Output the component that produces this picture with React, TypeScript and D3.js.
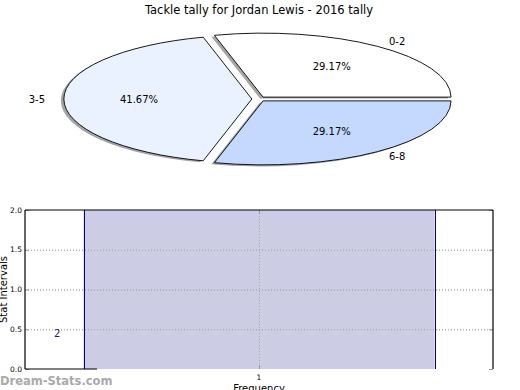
import React, { useEffect, useRef } from "react";
import * as d3 from "d3";

// pie data
const sliceLabels = ["0-2", "3-5", "6-8"];
const sliceValues = [7, 10, 7];
const sliceColors = ["#ffffff", "#ebf2ff", "#c5d9ff"];

// bar data
const barCategories = [1];
const barValues = [2];
const barText = ["2"];
const yTicks = [0, 0.5, 1.0, 1.5, 2.0];
const xTicks = [1];

const W = 520;
const H = 390;
const FONT = "DejaVu Sans, sans-serif";

const App = () => {
    const ref = useRef<SVGSVGElement>(null);

    useEffect(() => {
        if (!ref.current) return;
        d3.select(ref.current).selectAll("*").remove();
        const svg = d3.select(ref.current).attr("width", W).attr("height", H);

        svg.append("rect").attr("width", W).attr("height", H).attr("fill", "#fff");

        svg.append("text")
            .attr("x", 259)
            .attr("y", 14)
            .attr("text-anchor", "middle")
            .attr("font-family", FONT)
            .attr("font-size", 11.5)
            .text("Tackle tally for Jordan Lewis - 2016 tally");

        // ---- pie (elliptical, exploded, with shadow)
        const cx = 258.8, cy = 99, rx = 188, ry = 64, explode = 0.037;
        const pie = d3.pie<number>().sort(null).startAngle(0).endAngle(2 * Math.PI);
        const arcs = pie(sliceValues);
        const total = d3.sum(sliceValues);

        const pt = (x: number, y: number, a: number, k: number) =>
            [x + k * rx * Math.cos(a), y - k * ry * Math.sin(a)];

        const slicePath = (x: number, y: number, a0: number, a1: number) => {
            const [x0, y0] = pt(x, y, a0, 1);
            const [x1, y1] = pt(x, y, a1, 1);
            const large = a1 - a0 > Math.PI ? 1 : 0;
            return `M${x},${y}L${x0},${y0}A${rx},${ry} 0 ${large} 0 ${x1},${y1}Z`;
        };

        const shade = (c: string) => {
            const col = d3.rgb(c);
            return d3.rgb(col.r * 0.3, col.g * 0.3, col.b * 0.3).toString();
        };

        const g = svg.append("g");
        arcs.forEach((a, i) => {
            const mid = (a.startAngle + a.endAngle) / 2;
            const [ox, oy] = pt(cx, cy, mid, explode);
            g.append("path")
                .attr("d", slicePath(ox - 3, oy + 1.5, a.startAngle, a.endAngle))
                .attr("fill", shade(sliceColors[i]))
                .attr("opacity", 0.5);
        });
        arcs.forEach((a, i) => {
            const mid = (a.startAngle + a.endAngle) / 2;
            const [ox, oy] = pt(cx, cy, mid, explode);
            g.append("path")
                .attr("d", slicePath(ox, oy, a.startAngle, a.endAngle))
                .attr("fill", sliceColors[i])
                .attr("stroke", "#000")
                .attr("stroke-width", 0.9)
                .attr("stroke-linejoin", "miter");

            const [lx, ly] = pt(ox, oy, mid, 1.1);
            g.append("text")
                .attr("x", lx)
                .attr("y", ly)
                .attr("dy", "0.35em")
                .attr("text-anchor", Math.cos(mid) >= 0 ? "start" : "end")
                .attr("font-family", FONT)
                .attr("font-size", 10)
                .text(sliceLabels[i]);

            const [px, py] = pt(ox, oy, mid, 0.6);
            g.append("text")
                .attr("x", px)
                .attr("y", py)
                .attr("dy", "0.35em")
                .attr("text-anchor", "middle")
                .attr("font-family", FONT)
                .attr("font-size", 10)
                .text(`${((sliceValues[i] / total) * 100).toFixed(2)}%`);
        });

        // ---- bar chart
        const left = 25, right = 493, top = 210, bottom = 369;
        const x = d3.scaleLinear().domain([1 / 3, 5 / 3]).range([left, right]);
        const y = d3.scaleLinear().domain([0, 2]).range([bottom, top]);
        const barW = 1;

        const grid = svg.append("g")
            .attr("stroke", "#aaa")
            .attr("stroke-width", 1)
            .attr("stroke-dasharray", "1,2");
        yTicks.slice(1, -1).forEach((t) => {
            grid.append("line")
                .attr("x1", left).attr("x2", right)
                .attr("y1", y(t) + 0.5).attr("y2", y(t) + 0.5);
        });

        svg.selectAll(".bar")
            .data(barValues)
            .enter()
            .append("rect")
            .attr("class", "bar")
            .attr("x", (_, i) => x(barCategories[i] - barW / 2))
            .attr("y", (d) => y(d))
            .attr("width", x(barW) - x(0))
            .attr("height", (d) => bottom - y(d))
            .attr("fill", "#ccccE5");

        svg.selectAll(".edge")
            .data(barCategories.flatMap((c) => [c - barW / 2, c + barW / 2]))
            .enter()
            .append("line")
            .attr("x1", (d) => Math.round(x(d)) + 0.5)
            .attr("x2", (d) => Math.round(x(d)) + 0.5)
            .attr("y1", top)
            .attr("y2", bottom)
            .attr("stroke", "#00008b")
            .attr("stroke-width", 1);

        // vertical grid over the bar
        xTicks.forEach((t) => {
            grid.raise();
            grid.append("line")
                .attr("x1", x(t) + 0.5).attr("x2", x(t) + 0.5)
                .attr("y1", top).attr("y2", bottom);
        });
        svg.selectAll(".hgrid").data(yTicks.slice(1, -1)).enter().append("line")
            .attr("class", "hgrid")
            .attr("x1", left).attr("x2", right)
            .attr("y1", (d) => y(d) + 0.5).attr("y2", (d) => y(d) + 0.5)
            .attr("stroke", "#aaa")
            .attr("stroke-dasharray", "1,2");

        // ticks
        const ticks = svg.append("g").attr("stroke", "#999").attr("stroke-width", 1);
        yTicks.forEach((t) => {
            ticks.append("line").attr("x1", left).attr("x2", left + 4)
                .attr("y1", y(t) + 0.5).attr("y2", y(t) + 0.5);
            ticks.append("line").attr("x1", right - 4).attr("x2", right)
                .attr("y1", y(t) + 0.5).attr("y2", y(t) + 0.5);
        });
        xTicks.forEach((t) => {
            ticks.append("line").attr("x1", x(t) + 0.5).attr("x2", x(t) + 0.5)
                .attr("y1", bottom).attr("y2", bottom - 4);
            ticks.append("line").attr("x1", x(t) + 0.5).attr("x2", x(t) + 0.5)
                .attr("y1", top).attr("y2", top + 4);
        });

        // spines
        const sp = svg.append("g").attr("stroke", "#000").attr("stroke-width", 1.2);
        sp.append("line").attr("x1", left).attr("x2", right).attr("y1", top).attr("y2", top);
        sp.append("line").attr("x1", left).attr("x2", left).attr("y1", top).attr("y2", bottom);
        sp.append("line").attr("x1", right).attr("x2", right).attr("y1", top).attr("y2", bottom);
        sp.append("line").attr("x1", left).attr("x2", 97).attr("y1", bottom).attr("y2", bottom);

        // tick labels
        svg.selectAll(".ylab").data(yTicks).enter().append("text")
            .attr("class", "ylab")
            .attr("x", left - 3)
            .attr("y", (d) => y(d))
            .attr("dy", "0.35em")
            .attr("text-anchor", "end")
            .attr("font-family", FONT)
            .attr("font-size", 7.5)
            .text((d) => d.toFixed(1));

        svg.selectAll(".xlab").data(xTicks).enter().append("text")
            .attr("class", "xlab")
            .attr("x", (d) => x(d))
            .attr("y", bottom + 11)
            .attr("text-anchor", "middle")
            .attr("font-family", FONT)
            .attr("font-size", 7.5)
            .text((d) => d);

        svg.selectAll(".btext").data(barText).enter().append("text")
            .attr("class", "btext")
            .attr("x", x(0.425))
            .attr("y", y(0.45))
            .attr("dy", "0.35em")
            .attr("text-anchor", "middle")
            .attr("font-family", FONT)
            .attr("font-size", 10)
            .attr("fill", "#1a1a80")
            .text((d) => d);

        svg.append("text")
            .attr("transform", `translate(7,${(top + bottom) / 2}) rotate(-90)`)
            .attr("text-anchor", "middle")
            .attr("font-family", FONT)
            .attr("font-size", 10)
            .text("Stat Intervals");

        svg.append("text")
            .attr("x", (left + right) / 2)
            .attr("y", 392)
            .attr("text-anchor", "middle")
            .attr("font-family", FONT)
            .attr("font-size", 10)
            .text("Frequency");

        svg.append("text")
            .attr("x", 0)
            .attr("y", 385)
            .attr("font-family", FONT)
            .attr("font-size", 11.5)
            .attr("font-weight", "bold")
            .attr("fill", "#aaa")
            .text("Dream-Stats.com");
    }, []);

    return (
        <svg
            ref={ref}
            style={{ position: "absolute", left: 0, top: 0, display: "block" }}
        />
    );
};

export default App;
